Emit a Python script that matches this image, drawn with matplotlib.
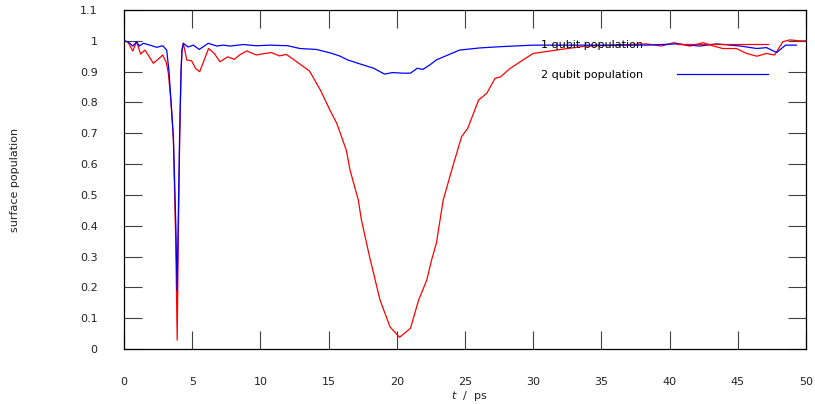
import numpy as np
import matplotlib
matplotlib.use('Agg')
import matplotlib.pyplot as plt
from matplotlib.ticker import MultipleLocator, FuncFormatter

#=== Data ===#
t_1q = [0, 0.3, 0.64, 0.93, 1.22, 1.54, 1.9, 2.15, 2.5, 2.84, 3.1, 3.25, 3.45, 3.62, 3.79, 3.9,
        3.98, 4.08, 4.18, 4.25, 4.35, 4.6, 4.96, 5.25, 5.55, 5.9, 6.2, 6.6, 7.04, 7.6, 8.1, 8.5,
        9.0, 9.7, 10.2, 10.8, 11.4, 11.9, 12.66, 13.6, 14.4, 15.1, 15.6, 16.3, 16.57, 17.18, 17.4,
        18.0, 18.77, 19.5, 20.2, 21.0, 21.6, 22.2, 22.55, 22.9, 23.4, 24.1, 24.75, 25.2, 26.0,
        26.6, 27.2, 27.6, 28.3, 29.25, 30.0, 31.7, 32.5, 33.9, 35.5, 37.0, 38.3, 39.4, 40.3,
        41.5, 42.45, 43.3, 43.9, 44.9, 45.65, 46.4, 47.1, 47.7, 48.3, 48.8, 49.5, 50.0]
pop_1q = [1.0, 0.995, 0.967, 0.997, 0.957, 0.97, 0.945, 0.927, 0.94, 0.954, 0.93, 0.895, 0.80,
          0.678, 0.354, 0.029, 0.354, 0.678, 0.895, 0.97, 0.992, 0.938, 0.935, 0.91, 0.90, 0.94,
          0.975, 0.96, 0.932, 0.948, 0.94, 0.955, 0.967, 0.954, 0.958, 0.962, 0.951, 0.956,
          0.932, 0.902, 0.84, 0.775, 0.732, 0.645, 0.581, 0.483, 0.42, 0.30, 0.159, 0.072,
          0.038, 0.067, 0.159, 0.224, 0.289, 0.343, 0.483, 0.592, 0.689, 0.716, 0.808, 0.830,
          0.878, 0.883, 0.91, 0.938, 0.959, 0.97, 0.975, 0.983, 0.985, 0.988, 0.99, 0.983,
          0.994, 0.983, 0.994, 0.982, 0.975, 0.975, 0.959, 0.95, 0.959, 0.954, 0.997, 1.003,
          1.0, 1.0]

t_2q = [0, 0.3, 0.64, 0.93, 1.12, 1.42, 1.9, 2.4, 2.84, 3.13, 3.3, 3.62, 3.8, 3.89, 3.97, 4.08,
        4.18, 4.25, 4.35, 4.7, 5.08, 5.52, 6.18, 6.8, 7.28, 7.77, 8.75, 9.7, 10.7, 12.0, 12.9,
        14.1, 15.1, 15.8, 16.4, 17.3, 18.3, 19.1, 19.7, 20.4, 21.0, 21.5, 21.9, 22.4, 22.9,
        23.8, 24.6, 26.1, 27.6, 30.0, 34.0, 38.3, 40.5, 42.2, 43.45, 45.2, 46.4, 47.1, 47.85,
        48.5, 49.3]
pop_2q = [1.0, 0.997, 0.983, 0.997, 0.983, 0.992, 0.986, 0.979, 0.984, 0.97, 0.90, 0.69, 0.40,
          0.19, 0.40, 0.70, 0.90, 0.97, 0.992, 0.98, 0.986, 0.972, 0.992, 0.983, 0.986, 0.983,
          0.988, 0.984, 0.986, 0.984, 0.975, 0.972, 0.961, 0.951, 0.938, 0.925, 0.911, 0.892,
          0.897, 0.895, 0.895, 0.911, 0.907, 0.921, 0.938, 0.955, 0.97, 0.977, 0.981, 0.986,
          0.986, 0.986, 0.99, 0.983, 0.99, 0.983, 0.975, 0.978, 0.962, 0.986, 0.986]

labels = ['1 qubit population', '2 qubit population']

#=== Figure ===#
plt.rcParams['font.family'] = 'DejaVu Sans'
fig = plt.figure(figsize=(8.15, 4.04), dpi=100)
ax = fig.add_axes([124/815, 55/404, 682/815, 339/404])

ax.plot(t_1q, pop_1q, color='#ff0000', lw=0.9, label=labels[0])
ax.plot(t_2q, pop_2q, color='#0000ff', lw=0.9, label=labels[1])

ax.set_xlim(0, 50)
ax.set_ylim(0, 1.1)
ax.xaxis.set_major_locator(MultipleLocator(5))
ax.yaxis.set_major_locator(MultipleLocator(0.1))
ax.yaxis.set_major_formatter(FuncFormatter(lambda v, p: '%g' % round(v, 2)))
ax.tick_params(direction='in', length=13, width=0.8, color='#404040',
               top=True, right=True, labelsize=8, labelcolor='#222222')
ax.tick_params(axis='x', pad=20)
ax.tick_params(axis='y', pad=19)
for s in ax.spines.values():
    s.set_linewidth(0.9)
    s.set_color('black')

ax.set_ylabel('surface population', fontsize=8, color='#222222')
ax.yaxis.set_label_coords(-0.152, 0.5)
ax.set_xlabel('$t$  /  ps', fontsize=8, color='#222222')
ax.xaxis.set_label_coords(0.507, -0.118)

#=== Key (gnuplot style: text then sample) ===#
ax.legend(loc='upper right', bbox_to_anchor=(0.944, 0.912), frameon=False, fontsize=8,
          markerfirst=False, handlelength=8.2, handletextpad=3.05, labelspacing=1.8,
          borderpad=0, borderaxespad=0)

plt.savefig('out.png', dpi=100)
